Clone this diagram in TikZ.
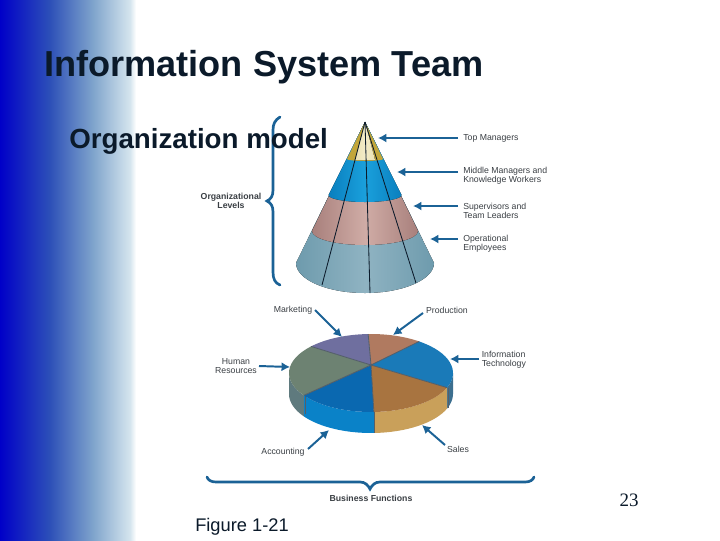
\documentclass[tikz,border=0pt]{standalone}
\usepackage{fontspec}
\setmainfont{Liberation Sans}
\newfontfamily\numfont{Liberation Serif}
\usetikzlibrary{arrows.meta}

\definecolor{arrowblue}{HTML}{1B6296}
\definecolor{titleink}{HTML}{0B1A2A}
\definecolor{labelink}{HTML}{3A3F44}
\definecolor{band1}{HTML}{0000C8}
\definecolor{band2}{HTML}{2D50B8}
\definecolor{band3}{HTML}{7FA4CC}
\definecolor{band4}{HTML}{D5E5EE}
\definecolor{cone1}{HTML}{6E9BAD}
\definecolor{cone1l}{HTML}{8FB3C2}
\definecolor{cone2}{HTML}{A8807C}
\definecolor{cone2l}{HTML}{D0ACA6}
\definecolor{cone3}{HTML}{0A7FBE}
\definecolor{cone3l}{HTML}{1AA0DC}
\definecolor{cone4}{HTML}{C2A63A}
\definecolor{cone4l}{HTML}{F2EBC8}
\definecolor{pieA}{HTML}{3C6F8F}
\definecolor{pieB}{HTML}{C9A05A}
\definecolor{pieC}{HTML}{0A82C8}
\definecolor{pieD}{HTML}{5F7A7E}
\definecolor{pieE}{HTML}{B07A60}
\definecolor{pieF}{HTML}{1A7AB8}
\definecolor{pieG}{HTML}{A87440}
\definecolor{pieH}{HTML}{0A68B0}
\definecolor{pieI}{HTML}{6D8272}
\definecolor{pieJ}{HTML}{6F6F9F}

\tikzset{
	lbl/.style = {font = \fontsize{6.2}{6.6}\selectfont, text = labelink, align = left, inner sep = 0pt},
	bold lbl/.style = {lbl, font = \fontsize{6.2}{6.6}\bfseries\selectfont, align = center},
	pointer/.style = {arrowblue, line width = 1.4pt, -{Latex[length = 6pt, width = 6.5pt]}},
	brace/.style = {arrowblue, line width = 1.9pt, line cap = round},
	heading/.style = {font = \fontsize{#1}{#1}\bfseries\selectfont, text = titleink, inner sep = 0pt}
}

\begin{document}
\begin{tikzpicture}[x = 0.025cm, y = -0.025cm]
	 \useasboundingbox (0, 0) rectangle (720, 540);
	 \fill[white] (0, 0) rectangle (720, 540);

	 % side band
	 \fill[left color = band1, right color = band2] (0, 0) rectangle (50, 540);
	 \fill[left color = band2, right color = band3] (50, 0) rectangle (93, 540);
	 \fill[left color = band3, right color = band4] (93, 0) rectangle (130, 540);
	 \fill[left color = band4, right color = white] (130, 0) rectangle (136, 540);

	 % cone
	 \foreach \y/\rx/\ry/\ca/\cb in {263/69/30/cone1/cone1l, 231/53/14/cone2/cone2l, 195/36.5/7/cone3/cone3l}
	 \fill[left color = \ca, right color = \ca, middle color = \cb] (365, 122) -- (365 - \rx, \y) arc[start angle = 180, end angle = 0, x radius = \rx, y radius = \ry] -- cycle;
	 \fill[cone4] (365, 122) -- (347, 159) arc[start angle = 180, end angle = 0, x radius = 18, y radius = 2] -- cycle;
	 \fill[left color = cone4l!85!cone4, right color = cone4l!85!cone4, middle color = cone4l] (365, 122) -- (355, 160) -- (375, 160) -- cycle;
	 \foreach \x/\y in {322/285, 370/293, 416/283}
	 \draw[titleink, line width = 0.6pt] (365, 122) -- (\x, \y);

	 % pie sides
	 \foreach \a/\b/\c in {0/22/pieA, 22/88/pieB, 88/145/pieC, 145/180/pieD}
	 \fill[\c] ([shift = {(371, 373)}] \a:82 and 39) arc[start angle = \a, end angle = \b, x radius = 82, y radius = 39] -- ++(0, 21) arc[start angle = \b, end angle = \a, x radius = 82, y radius = 39] -- cycle;
	 \draw[titleink!70, line width = 0.5pt] (374, 412) -- (374, 433);
	 \draw[titleink!70, line width = 0.5pt] (305, 395) -- (305, 414);
	 \draw[titleink!70, line width = 0.5pt] (448, 388) -- (448, 408);

	 % pie top
	 \foreach \a/\b/\c in {268/306/pieE, 306/382/pieF, 22/88/pieG, 88/145/pieH, 145/223/pieI, 223/268/pieJ}
	 \fill[\c] (371, 365) -- ([shift = {(371, 373)}] \a:82 and 39) arc[start angle = \a, end angle = \b, x radius = 82, y radius = 39] -- cycle;
	 \foreach \a in {268, 306, 22, 88, 145, 223}
	 \draw[titleink!70, line width = 0.6pt] (371, 365) -- ([shift = {(371, 373)}] \a:82 and 39);

	 % cone labels
	 \node[lbl, anchor = west] (top) at (463, 138.5) {Top Managers};
	 \node[lbl, anchor = west] (middle) at (463, 176) {Middle Managers and\\Knowledge Workers};
	 \node[lbl, anchor = west] (super) at (463, 211) {Supervisors and\\Team Leaders};
	 \node[lbl, anchor = west] (oper) at (463, 244) {Operational\\Employees};
	 \node[bold lbl] (levels) at (231, 201) {Organizational\\Levels};

	 \coordinate (top tip) at (378, 138);
	 \coordinate (middle tip) at (397, 172);
	 \coordinate (super tip) at (413, 206);
	 \coordinate (oper tip) at (430, 239);
	 \coordinate (top tail) at (458, 138);
	 \coordinate (middle tail) at (458, 172);
	 \coordinate (super tail) at (458, 206);
	 \coordinate (oper tail) at (458, 239);
	 \draw[pointer] (top tail) -- (top tip);
	 \draw[pointer] (middle tail) -- (middle tip);
	 \draw[pointer] (super tail) -- (super tip);
	 \draw[pointer] (oper tail) -- (oper tip);

	 % pie labels
	 \node[lbl] (marketing) at (293, 310) {Marketing};
	 \node[lbl] (production) at (447, 310.5) {Production};
	 \node[lbl, anchor = west] (infotech) at (481.5, 360) {Information\\Technology};
	 \node[lbl, align = center] (human) at (236, 366) {Human\\Resources};
	 \node[lbl] (accounting) at (283, 452) {Accounting};
	 \node[lbl] (sales) at (458, 449.5) {Sales};
	 \node[bold lbl] (business) at (371, 498) {Business Functions};

	 \coordinate (marketing tip) at (342, 337);
	 \coordinate (production tip) at (393, 335);
	 \coordinate (infotech tip) at (450, 359);
	 \coordinate (human tip) at (290, 367);
	 \coordinate (accounting tip) at (329, 430);
	 \coordinate (sales tip) at (422, 425);
	 \coordinate (marketing tail) at (315, 310);
	 \coordinate (production tail) at (423, 313);
	 \coordinate (infotech tail) at (479, 359);
	 \coordinate (human tail) at (259, 366);
	 \coordinate (accounting tail) at (308, 449);
	 \coordinate (sales tail) at (445, 445);
	 \draw[pointer] (marketing tail) -- (marketing tip);
	 \draw[pointer] (production tail) -- (production tip);
	 \draw[pointer] (infotech tail) -- (infotech tip);
	 \draw[pointer] (human tail) -- (human tip);
	 \draw[pointer] (accounting tail) -- (accounting tip);
	 \draw[pointer] (sales tail) -- (sales tip);

	 % braces
	 \draw[brace] (280, 117) .. controls (275, 120) and (273, 124) .. (273, 130) -- (273, 190) .. controls (273, 196) and (271, 199) .. (267, 201) .. controls (271, 203) and (273, 206) .. (273, 212) -- (273, 272) .. controls (273, 279) and (275, 283) .. (280, 285);
	 \draw[brace] (207, 477) .. controls (208, 480) and (211, 482) .. (216, 482) -- (360, 482) .. controls (365, 482) and (368, 485) .. (370, 489) .. controls (372, 485) and (375, 482) .. (380, 482) -- (525, 482) .. controls (530, 482) and (533, 480) .. (534, 477);

	 % slide text
	 \node[heading = 25.7, anchor = west] (title) at (44, 67.5) {Information System Team};
	 \node[heading = 19.7, anchor = west] (model) at (69, 141) {Organization model};
	 \node[font = \numfont\fontsize{13.5}{14}\selectfont, text = titleink, inner sep = 0pt] (page) at (629, 500) {23};
	 \node[font = \fontsize{13}{14}\selectfont, text = titleink, inner sep = 0pt] (figure) at (242, 527) {Figure 1-21};
\end{tikzpicture}
\end{document}
